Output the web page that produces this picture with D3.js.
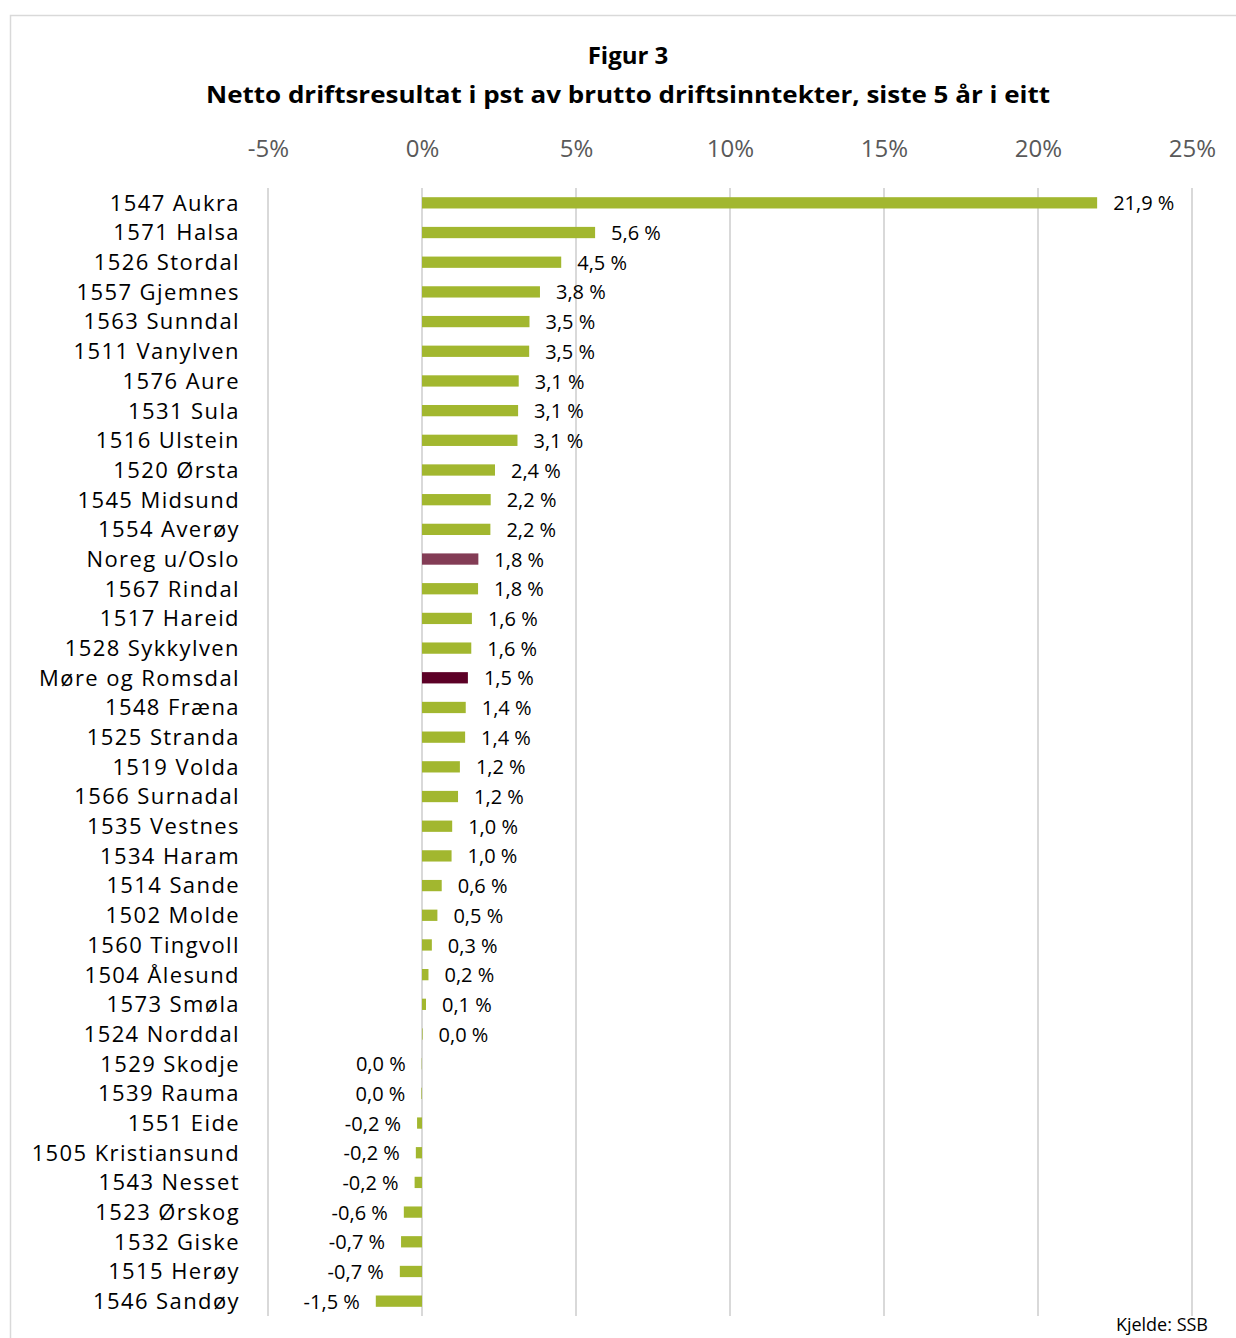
<!DOCTYPE html>
<html>
<head>
<meta charset="utf-8">
<script src="https://cdn.jsdelivr.net/npm/d3@7"></script>
<style>
  body { margin: 0; background: #fff; }
  text { font-family: "Open Sans", "Noto Sans", sans-serif; }
</style>
</head>
<body>
<svg id="chart" width="1236" height="1338"></svg>
<script>
// kommunar, sortert slik dei står i figuren
var names = ["1547 Aukra", "1571 Halsa", "1526 Stordal", "1557 Gjemnes", "1563 Sunndal",
  "1511 Vanylven", "1576 Aure", "1531 Sula", "1516 Ulstein", "1520 Ørsta", "1545 Midsund",
  "1554 Averøy", "Noreg u/Oslo", "1567 Rindal", "1517 Hareid", "1528 Sykkylven",
  "Møre og Romsdal", "1548 Fræna", "1525 Stranda", "1519 Volda", "1566 Surnadal",
  "1535 Vestnes", "1534 Haram", "1514 Sande", "1502 Molde", "1560 Tingvoll",
  "1504 Ålesund", "1573 Smøla", "1524 Norddal", "1529 Skodje", "1539 Rauma",
  "1551 Eide", "1505 Kristiansund", "1543 Nesset", "1523 Ørskog", "1532 Giske",
  "1515 Herøy", "1546 Sandøy"];

var values = [21.92, 5.62, 4.52, 3.83, 3.49, 3.48, 3.14, 3.12, 3.1, 2.37, 2.23, 2.22,
  1.83, 1.82, 1.62, 1.6, 1.49, 1.42, 1.4, 1.23, 1.17, 0.98, 0.96, 0.64, 0.5, 0.32,
  0.21, 0.13, 0.02, -0.01, -0.02, -0.16, -0.2, -0.24, -0.59, -0.68, -0.72, -1.5];

var tickVals = [-5, 0, 5, 10, 15, 20, 25];

var svg = d3.select("#chart");

var green = "#a2b72f";
var colorFor = function(n) {
  if (n == "Noreg u/Oslo") return "#833c55";
  if (n == "Møre og Romsdal") return "#5c0026";
  return green;
};

// ramme
svg.append("path")
  .attr("d", "M10.5,1338 L10.5,15.5 L1236,15.5")
  .attr("fill", "none")
  .attr("stroke", "#d9d9d9")
  .attr("stroke-width", 1.5);

// tittel
svg.append("text")
  .attr("x", 628).attr("y", 64)
  .attr("text-anchor", "middle")
  .attr("font-size", 24).attr("font-weight", "bold")
  .text("Figur 3");
svg.append("text")
  .attr("x", 628).attr("y", 103)
  .attr("text-anchor", "middle")
  .attr("font-size", 24).attr("font-weight", "bold")
  .attr("textLength", 844).attr("lengthAdjust", "spacingAndGlyphs")
  .text("Netto driftsresultat i pst av brutto driftsinntekter, siste 5 år i eitt");

var x = d3.scaleLinear().domain([-5, 25]).range([268, 1192]);
var y = d3.scaleBand().domain(names).range([188, 1316]).paddingInner(0.62).paddingOuter(0.31);

// rutenett
svg.append("g")
  .selectAll("line")
  .data(tickVals)
  .enter()
  .append("line")
  .attr("x1", function(d) { return x(d); })
  .attr("x2", function(d) { return x(d); })
  .attr("y1", 188)
  .attr("y2", 1316)
  .attr("stroke", "#d9d9d9")
  .attr("stroke-width", 2);

// akse oppe
var axis = svg.append("g")
  .attr("transform", "translate(0,160)")
  .call(d3.axisTop(x).tickValues(tickVals).tickSize(0).tickFormat(function(d) { return d + "%"; }));
axis.select(".domain").remove();
axis.selectAll("text")
  .attr("font-family", "Open Sans")
  .attr("font-size", 24)
  .attr("fill", "#595959")
  .attr("dy", 0);

// kategori-etikettar
svg.append("g")
  .selectAll("text")
  .data(names)
  .enter()
  .append("text")
  .attr("x", 240)
  .attr("y", function(d) { return y(d) + y.bandwidth() / 2; })
  .attr("dy", "0.36em")
  .attr("text-anchor", "end")
  .attr("font-size", 22)
  .attr("letter-spacing", 1.4)
  .attr("fill", "#000")
  .text(function(d) { return d; });

var rows = names.map(function(n, i) { return { name: n, value: values[i] }; });

// stolpar
svg.append("g")
  .selectAll("rect")
  .data(rows)
  .enter()
  .append("rect")
  .attr("x", function(d) { return x(Math.min(0, d.value)); })
  .attr("y", function(d) { return y(d.name); })
  .attr("width", function(d) { return Math.abs(x(d.value) - x(0)); })
  .attr("height", y.bandwidth())
  .attr("fill", function(d) { return colorFor(d.name); });

var fmt = function(v) {
  var s = Math.abs(v).toFixed(1);
  if (v < 0 && s != "0.0") s = "-" + s;
  return s.replace(".", ",") + " %";
};

// verdietikettar
svg.append("g")
  .selectAll("text")
  .data(rows)
  .enter()
  .append("text")
  .attr("x", function(d) { return d.value >= 0 ? x(d.value) + 16 : x(d.value) - 16; })
  .attr("y", function(d) { return y(d.name) + y.bandwidth() / 2; })
  .attr("dy", "0.38em")
  .attr("text-anchor", function(d) { return d.value >= 0 ? "start" : "end"; })
  .attr("font-size", 20)
  .attr("fill", "#000")
  .text(function(d) { return fmt(d.value); });

// kjelde
svg.append("text")
  .attr("x", 1208).attr("y", 1331)
  .attr("text-anchor", "end")
  .attr("font-size", 18)
  .text("Kjelde: SSB");
</script>
</body>
</html>
